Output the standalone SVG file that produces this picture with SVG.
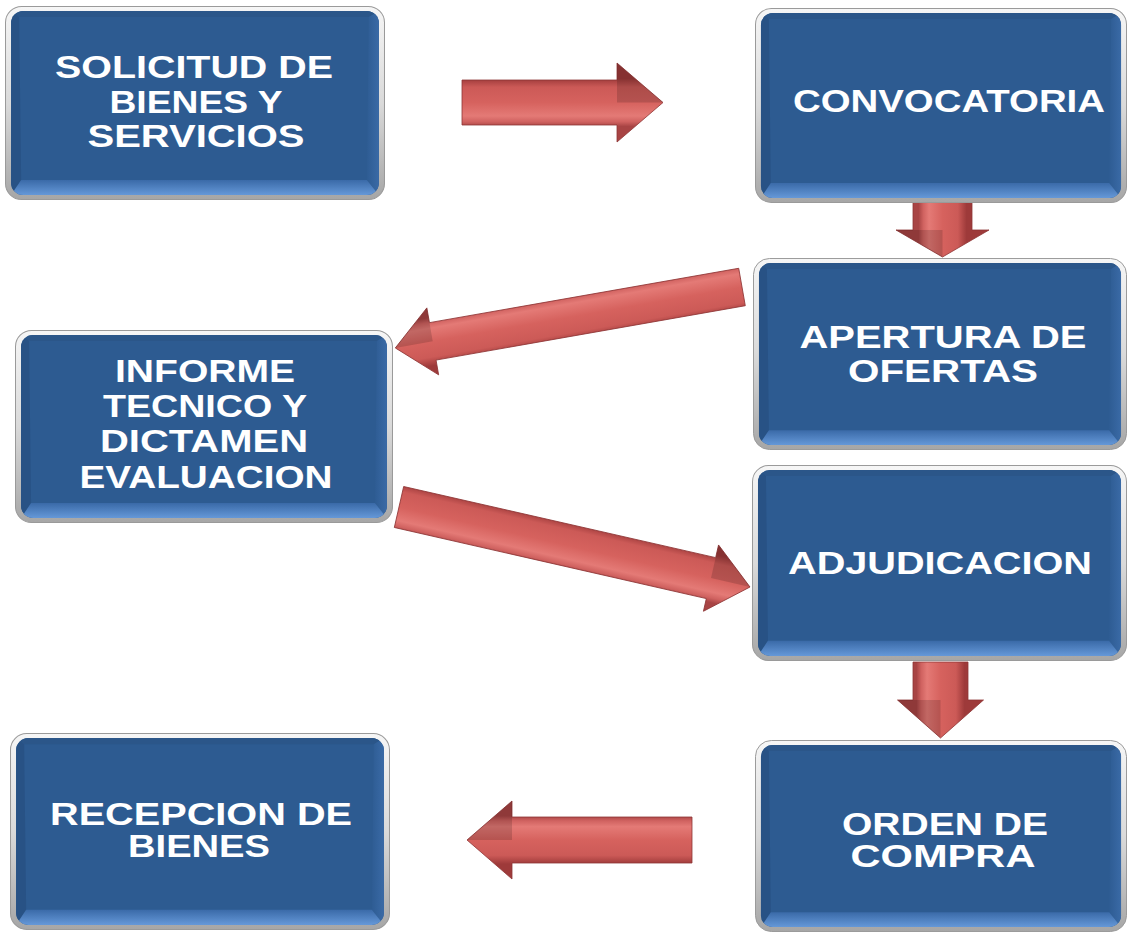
<svg xmlns="http://www.w3.org/2000/svg" xmlns:xlink="http://www.w3.org/1999/xlink" width="1130" height="934" viewBox="0 0 1130 934">
<style>
.lbl{font-family:"Liberation Sans",Arial,sans-serif;font-weight:bold;font-size:31px;fill:#ffffff;text-anchor:middle}
.arr{fill:url(#arrowG);stroke:#8E3535;stroke-width:0.8;stroke-linejoin:round}
.facet{fill:#000000;fill-opacity:0.15}
</style>
<defs>
<linearGradient id="silver" x1="0" y1="0" x2="0" y2="1">
<stop offset="0" stop-color="#f6f6f6"/>
<stop offset="0.5" stop-color="#dadada"/>
<stop offset="1" stop-color="#a6a6a6"/>
</linearGradient>
<linearGradient id="bevB" x1="0" y1="0" x2="0" y2="1">
<stop offset="0" stop-color="#3a6aa8"/>
<stop offset="1" stop-color="#6598d8"/>
</linearGradient>
<linearGradient id="bevR" x1="0" y1="0" x2="1" y2="0">
<stop offset="0" stop-color="#2E5C93"/>
<stop offset="1" stop-color="#3A6AA6"/>
</linearGradient>
<linearGradient id="arrowG" gradientUnits="userSpaceOnUse" x1="0" y1="-24" x2="0" y2="24">
<stop offset="0" stop-color="#9E3A3A"/>
<stop offset="0.18" stop-color="#CC5A57"/>
<stop offset="0.5" stop-color="#D6625E"/>
<stop offset="0.78" stop-color="#E47A76"/>
<stop offset="0.9" stop-color="#D06260"/>
<stop offset="1" stop-color="#A84444"/>
</linearGradient>
<clipPath id="innerClip"><rect x="6" y="5" width="364" height="184" rx="12"/></clipPath>
<symbol id="box" viewBox="0 0 376 194" preserveAspectRatio="none">
<rect x="0.5" y="0.5" width="375" height="193" rx="16" fill="url(#silver)" stroke="#9a9a9a"/>
<rect x="6" y="5" width="364" height="184" rx="12" fill="#2D5B91"/>
<g clip-path="url(#innerClip)">
<polygon points="6,5 370,5 360,11 14,11" fill="#2B5689"/>
<polygon points="6,5 14,11 16,174 6,189" fill="#285285"/>
<polygon points="370,5 360,11 358,174 370,189" fill="url(#bevR)"/>
<polygon points="6,189 370,189 358,174 16,174" fill="url(#bevB)"/>
</g>
</symbol>
</defs>
<rect width="1130" height="934" fill="#ffffff"/>

<g id="connectors">
<g transform="translate(462,102.5)">
<polygon class="arr" points="0,-22.5 155,-22.5 155,-39.5 201,0 155,39.5 155,22.5 0,22.5"/>
<polygon class="facet" points="155,-39.5 201,0 155,0"/>
</g>
<g transform="translate(942.5,197) rotate(90)">
<polygon class="arr" points="0,-29.5 33,-29.5 33,-46.5 60,0 33,46.5 33,29.5 0,29.5"/>
<polygon class="facet" points="33,46.5 60,0 33,0"/>
</g>
<g transform="translate(742,287) rotate(170.03)">
<polygon class="arr" points="0,-19 314,-19 314,-34 352,0 314,34 314,19 0,19"/>
<polygon class="facet" points="314,34 352,0 314,0"/>
</g>
<g transform="translate(399,507) rotate(12.84)">
<polygon class="arr" points="0,-21 320,-21 320,-34 360,0 320,34 320,21 0,21"/>
<polygon class="facet" points="320,-34 360,0 320,0"/>
</g>
<g transform="translate(940.5,662) rotate(90)">
<polygon class="arr" points="0,-27.5 38,-27.5 38,-43 76,0 38,43 38,27.5 0,27.5"/>
<polygon class="facet" points="38,43 76,0 38,0"/>
</g>
<g transform="translate(692,840) rotate(180)">
<polygon class="arr" points="0,-23 180,-23 180,-39 225,0 180,39 180,23 0,23"/>
<polygon class="facet" points="180,39 225,0 180,0"/>
</g>
</g>

<g id="node-solicitud">
<use href="#box" xlink:href="#box" x="5" y="6" width="380" height="194"/>
<text class="lbl" x="194" y="78" textLength="278" lengthAdjust="spacingAndGlyphs">SOLICITUD DE</text>
<text class="lbl" x="196" y="113" textLength="173" lengthAdjust="spacingAndGlyphs">BIENES Y</text>
<text class="lbl" x="196" y="147" textLength="217" lengthAdjust="spacingAndGlyphs">SERVICIOS</text>
</g>
<g id="node-convocatoria">
<use href="#box" xlink:href="#box" x="755" y="8" width="372" height="195"/>
<text class="lbl" x="949" y="112" textLength="312" lengthAdjust="spacingAndGlyphs">CONVOCATORIA</text>
</g>
<g id="node-apertura">
<use href="#box" xlink:href="#box" x="753" y="258" width="374" height="192"/>
<text class="lbl" x="943" y="348" textLength="287" lengthAdjust="spacingAndGlyphs">APERTURA DE</text>
<text class="lbl" x="943" y="382" textLength="190" lengthAdjust="spacingAndGlyphs">OFERTAS</text>
</g>
<g id="node-informe">
<use href="#box" xlink:href="#box" x="15" y="330" width="378" height="193"/>
<text class="lbl" x="205" y="382" textLength="180" lengthAdjust="spacingAndGlyphs">INFORME</text>
<text class="lbl" x="205" y="417" textLength="204" lengthAdjust="spacingAndGlyphs">TECNICO Y</text>
<text class="lbl" x="204" y="452" textLength="208" lengthAdjust="spacingAndGlyphs">DICTAMEN</text>
<text class="lbl" x="206" y="488" textLength="253" lengthAdjust="spacingAndGlyphs">EVALUACION</text>
</g>
<g id="node-adjudicacion">
<use href="#box" xlink:href="#box" x="752" y="465" width="375" height="196"/>
<text class="lbl" x="940" y="574" textLength="304" lengthAdjust="spacingAndGlyphs">ADJUDICACION</text>
</g>
<g id="node-orden">
<use href="#box" xlink:href="#box" x="755" y="740" width="372" height="192"/>
<text class="lbl" x="945" y="835" textLength="206" lengthAdjust="spacingAndGlyphs">ORDEN DE</text>
<text class="lbl" x="943" y="867" textLength="185" lengthAdjust="spacingAndGlyphs">COMPRA</text>
</g>
<g id="node-recepcion">
<use href="#box" xlink:href="#box" x="10" y="733" width="380" height="197"/>
<text class="lbl" x="201" y="825" textLength="302" lengthAdjust="spacingAndGlyphs">RECEPCION DE</text>
<text class="lbl" x="199" y="857" textLength="142" lengthAdjust="spacingAndGlyphs">BIENES</text>
</g>
</svg>
